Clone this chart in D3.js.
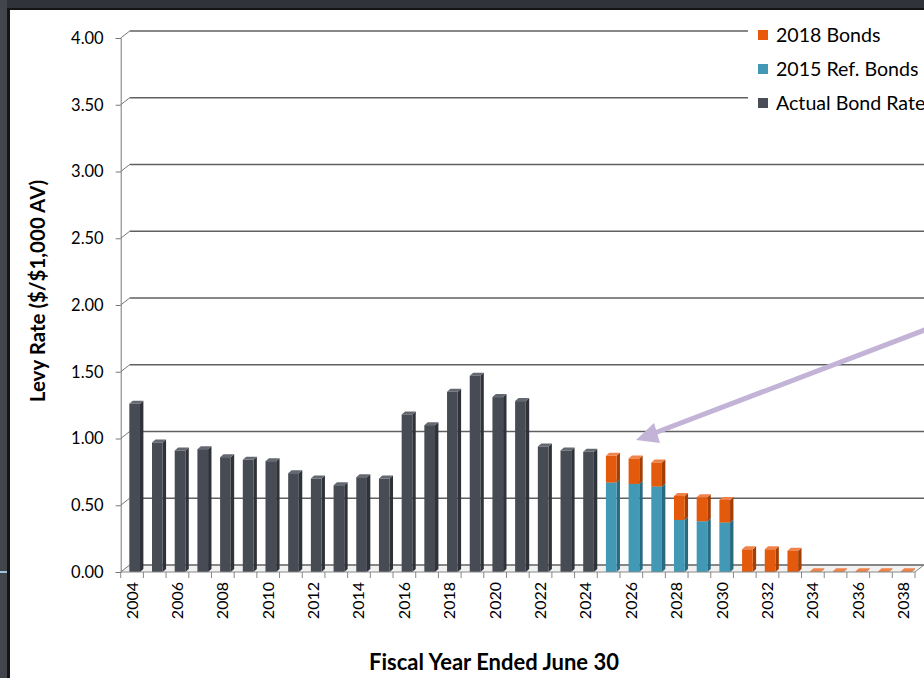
<!DOCTYPE html>
<html lang="en">
<head>
  <meta charset="UTF-8">
  <script src="https://d3js.org/d3.v7.min.js"></script>
  <title>Levy Rate</title>
  <style>
    body { margin: 0; background: #fff; }
    text { font-family: Lato, "Open Sans", sans-serif; fill: #000; }
  </style>
</head>
<body>
  <div id="wrapper"></div>
  <script>
    // chart values
    const years = [2004, 2005, 2006, 2007, 2008, 2009, 2010, 2011, 2012, 2013, 2014, 2015,
                   2016, 2017, 2018, 2019, 2020, 2021, 2022, 2023, 2024, 2025, 2026, 2027,
                   2028, 2029, 2030, 2031, 2032, 2033, 2034, 2035, 2036, 2037, 2038]
    const actualRate = [1.26, 0.97, 0.91, 0.92, 0.86, 0.84, 0.83, 0.74, 0.70, 0.65, 0.71, 0.70,
                        1.18, 1.10, 1.35, 1.47, 1.31, 1.28, 0.94, 0.91, 0.90, 0, 0, 0,
                        0, 0, 0, 0, 0, 0, 0, 0, 0, 0, 0]
    const refBonds2015 = [0, 0, 0, 0, 0, 0, 0, 0, 0, 0, 0, 0,
                          0, 0, 0, 0, 0, 0, 0, 0, 0, 0.67, 0.66, 0.64,
                          0.39, 0.38, 0.37, 0, 0, 0, 0, 0, 0, 0, 0]
    const bonds2018 = [0, 0, 0, 0, 0, 0, 0, 0, 0, 0, 0, 0,
                       0, 0, 0, 0, 0, 0, 0, 0, 0, 0.20, 0.19, 0.18,
                       0.18, 0.18, 0.17, 0.17, 0.17, 0.16, 0.005, 0.005, 0.005, 0.005, 0.005]
    const yTicks = [0, 0.5, 1, 1.5, 2, 2.5, 3, 3.5, 4]
    const xTickYears = [2004, 2006, 2008, 2010, 2012, 2014, 2016, 2018, 2020,
                        2022, 2024, 2026, 2028, 2030, 2032, 2034, 2036, 2038]
    const legendItems = ["2018 Bonds", "2015 Ref. Bonds", "Actual Bond Rate"]

    const width = 924, height = 678
    const depth = { x: 9, y: -7 }      // back wall offset
    const barDepth = { x: 3.4, y: -3 } // bar side/top offset

    const colors = {
      actual: { front: "#474b53", side: "#2f3238", top: "#646870" },
      ref: { front: "#4199b6", side: "#2a6a80", top: "#72b6cc" },
      b2018: { front: "#e45a0c", side: "#a43e05", top: "#f0834a" }
    }
    const legendColors = ["#e8590c", "#4199b6", "#4a4d55"]

    const rows = years.map((yr, i) => ({
      year: yr, actual: actualRate[i], ref: refBonds2015[i], b2018: bonds2018[i]
    }))
    const series = d3.stack().keys(["actual", "ref", "b2018"])(rows)

    const svg = d3.select("#wrapper").append("svg")
        .attr("width", width).attr("height", height)

    // slide frame
    svg.append("rect").attr("x", 0).attr("y", 0).attr("width", width).attr("height", 9).attr("fill", "#303339")
    svg.append("rect").attr("x", 0).attr("y", 0).attr("width", 7).attr("height", height).attr("fill", "#42454c")
    svg.append("rect").attr("x", 7).attr("y", 8).attr("width", width).attr("height", 2).attr("fill", "#141414")
    svg.append("rect").attr("x", 7).attr("y", 8).attr("width", 3).attr("height", height).attr("fill", "#141414")
    svg.append("rect").attr("x", 0).attr("y", 571).attr("width", 7).attr("height", 2).attr("fill", "#9cc3da")

    const xScale = d3.scaleBand().domain(years).range([120.7, 915]).paddingInner(0).paddingOuter(0)
    const yScale = d3.scaleLinear().domain([0, 4]).range([572, 38])
    const step = xScale.step()

    // floor
    const y0 = yScale(0)
    svg.append("path")
        .attr("d", `M120.7,${y0}L915,${y0}L${915 + depth.x},${y0 + depth.y}L${120.7 + depth.x},${y0 + depth.y}Z`)
        .attr("fill", "#f1f1f1")

    // back wall grid lines
    const grid = svg.append("g")
    grid.selectAll("line.grid").data(yTicks).join("line")
        .attr("class", "grid")
        .attr("x1", 120.7 + depth.x).attr("x2", width)
        .attr("y1", d => yScale(d) + depth.y).attr("y2", d => yScale(d) + depth.y)
        .attr("stroke", "#606060").attr("stroke-width", 1.3)
    grid.selectAll("path.diag").data(yTicks).join("path")
        .attr("class", "diag")
        .attr("d", d => `M120.7,${yScale(d)}l${depth.x},${depth.y}`)
        .attr("stroke", "#777").attr("fill", "none")

    // y axis
    const yAxis = svg.append("g").attr("transform", "translate(120.7,0)")
        .call(d3.axisLeft(yScale).tickValues(yTicks).tickFormat(d3.format(".2f")).tickSize(5).tickPadding(12))
    yAxis.select(".domain").attr("stroke", "#777")
    yAxis.selectAll(".tick line").attr("stroke", "#777")
    yAxis.selectAll(".tick text").style("font-size", "16.5px").style("font-family", "Lato")

    // bars
    const bars = svg.append("g")
    series.forEach(s => {
      const c = colors[s.key]
      s.forEach(d => {
        if (d[1] - d[0] <= 0) return
        const bx = xScale(d.data.year) + step * 0.38
        const bw = step * 0.47
        const yt = yScale(d[1]), yb = yScale(d[0])
        const g = bars.append("g")
        g.append("path")
            .attr("d", `M${bx + bw},${yt}l${barDepth.x},${barDepth.y}L${bx + bw + barDepth.x},${yb + barDepth.y}L${bx + bw},${yb}Z`)
            .attr("fill", c.side)
        g.append("path")
            .attr("d", `M${bx},${yt}l${barDepth.x},${barDepth.y}h${bw}l${-barDepth.x},${-barDepth.y}Z`)
            .attr("fill", c.top)
        g.append("rect")
            .attr("x", bx).attr("y", yt).attr("width", bw).attr("height", Math.max(0.6, yb - yt))
            .attr("fill", c.front)
      })
    })

    // x axis
    const xAxis = svg.append("g").attr("transform", `translate(0,${y0})`)
    xAxis.append("line").attr("x1", 120.7).attr("x2", 915).attr("y1", 0).attr("y2", 0).attr("stroke", "#888")
    xAxis.append("line").attr("x1", 915).attr("x2", 915 + depth.x).attr("y1", 0).attr("y2", depth.y).attr("stroke", "#888")
    xAxis.selectAll("line.tick").data(years.concat([null])).join("line")
        .attr("class", "tick")
        .attr("x1", (d, i) => 120.7 + i * step).attr("x2", (d, i) => 120.7 + i * step)
        .attr("y1", 0).attr("y2", 6).attr("stroke", "#888")
    xAxis.selectAll("text").data(xTickYears).join("text")
        .attr("transform", d => `translate(${xScale(d) + step / 2 + 5.5},${10}) rotate(-90)`)
        .attr("text-anchor", "end")
        .style("font-size", "16px")
        .text(d => d)

    // legend
    const legend = svg.append("g")
    legend.append("rect").attr("x", 748).attr("y", 18).attr("width", 180).attr("height", 100).attr("fill", "#fff")
    legendItems.forEach((name, i) => {
      const ly = 35 + i * 34
      legend.append("rect").attr("x", 758).attr("y", ly - 5).attr("width", 10).attr("height", 10).attr("fill", legendColors[i])
      legend.append("text").attr("x", 776).attr("y", ly).attr("dy", "0.35em")
          .style("font-size", "19.6px").text(name)
    })

    // arrow
    const arrow = svg.append("g")
    arrow.append("line").attr("x1", 930).attr("y1", 328).attr("x2", 652).attr("y2", 434)
        .attr("stroke", "#c2b3d7").attr("stroke-width", 5)
    arrow.append("path").attr("d", "M636,440L654,423L660,443Z").attr("fill", "#c2b3d7")

    // axis titles
    svg.append("text")
        .attr("transform", "translate(45,291) rotate(-90)")
        .attr("text-anchor", "middle")
        .style("font-size", "20.5px").style("font-weight", "bold")
        .text("Levy Rate ($/$1,000 AV)")
    svg.append("text")
        .attr("x", 494).attr("y", 670)
        .attr("text-anchor", "middle")
        .style("font-size", "22px").style("font-weight", "bold")
        .text("Fiscal Year Ended June 30")
  </script>
</body>
</html>
